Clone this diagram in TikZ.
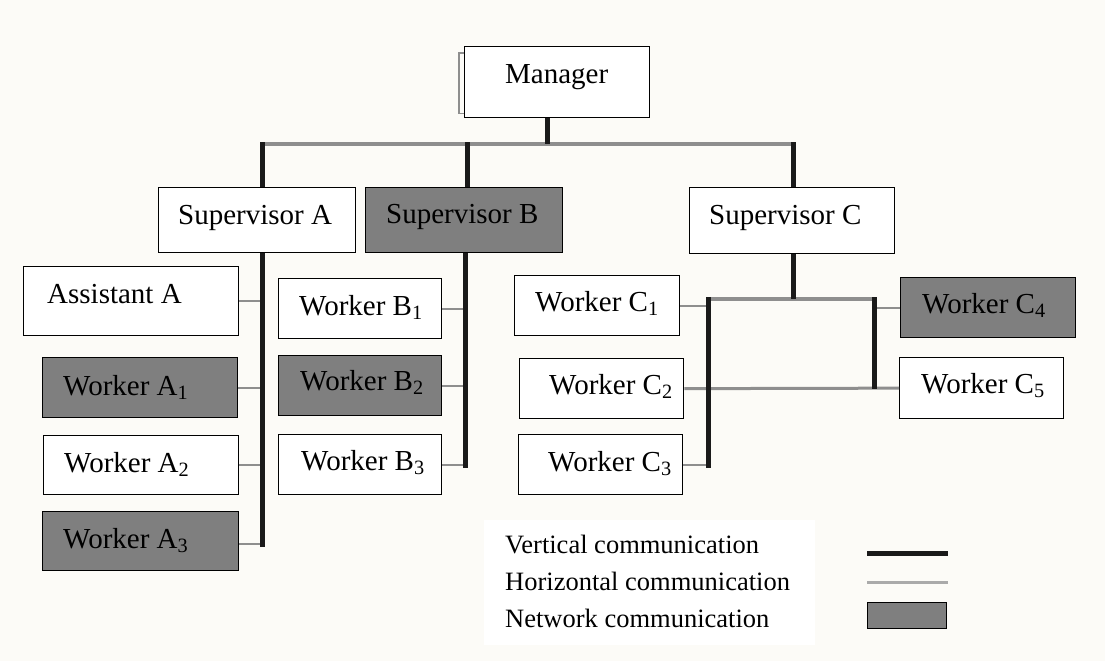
\documentclass[tikz,border=0pt]{standalone}
\usepackage{fontspec}
\setmainfont{Liberation Serif}
\definecolor{bg}{HTML}{FCFBF7}
\definecolor{netgray}{HTML}{7F7F7F}
\definecolor{hgray}{HTML}{8E8E8E}
\definecolor{vblack}{HTML}{1A1A1A}
\tikzset{
 box/.style={draw=black, line width=1.3pt, fill=white, inner sep=0pt, anchor=north west},
 netbox/.style={box, fill=netgray},
 txt/.style={inner sep=0pt, anchor=base west, font=\fontsize{29}{34}\selectfont},
 legtxt/.style={inner sep=0pt, anchor=base west, font=\fontsize{26.5}{32}\selectfont},
 vline/.style={draw=vblack, line width=5pt},
 hline/.style={draw=hgray, line width=3.5pt},
 hconn/.style={draw=hgray, line width=2pt},
 bracketline/.style={draw=hgray, line width=1.5pt},
}
\begin{document}
\begin{tikzpicture}[x=1pt,y=-1pt]
\fill[bg] (0,0) rectangle (1105,661);
\useasboundingbox (0,0) rectangle (1105,661);

% boxes
\node[box, minimum width=185, minimum height=71] (man) at (464,46) {};
\node[box, minimum width=197, minimum height=65] (sa) at (158,187) {};
\node[netbox, minimum width=197, minimum height=65] (sb) at (365,187) {};
\node[box, minimum width=205, minimum height=66] (sc) at (689,187) {};
\node[box, minimum width=215, minimum height=69] (aa) at (23,266) {};
\node[netbox, minimum width=195, minimum height=60] (a1) at (42,357) {};
\node[box, minimum width=195, minimum height=59] (a2) at (43,435) {};
\node[netbox, minimum width=196, minimum height=59] (a3) at (42,511) {};
\node[box, minimum width=163, minimum height=60] (b1) at (278,278) {};
\node[netbox, minimum width=163, minimum height=60] (b2) at (278,355) {};
\node[box, minimum width=163, minimum height=60] (b3) at (278,434) {};
\node[box, minimum width=165, minimum height=60] (c1) at (514,275) {};
\node[box, minimum width=164, minimum height=60] (c2) at (519,358) {};
\node[box, minimum width=164, minimum height=60] (c3) at (518,434) {};
\node[netbox, minimum width=175, minimum height=60] (c4) at (900,277) {};
\node[box, minimum width=164, minimum height=61] (c5) at (899,357) {};

% texts
\node[txt] (mant) at (505,84) {Manager};
\node[txt] (sat) at (178,224) {Supervisor A};
\node[txt] (sbt) at (386,223) {Supervisor B};
\node[txt] (sct) at (709,224) {Supervisor C};
\node[txt] (aat) at (47,303) {Assistant A};
\node[txt] (a1t) at (63,395) {Worker A\textsubscript{1}};
\node[txt] (a2t) at (64,472) {Worker A\textsubscript{2}};
\node[txt] (a3t) at (63,548) {Worker A\textsubscript{3}};
\node[txt] (b1t) at (299,315) {Worker B\textsubscript{1}};
\node[txt] (b2t) at (300,390) {Worker B\textsubscript{2}};
\node[txt] (b3t) at (301,470) {Worker B\textsubscript{3}};
\node[txt] (c1t) at (535,311) {Worker C\textsubscript{1}};
\node[txt] (c2t) at (549,394) {Worker C\textsubscript{2}};
\node[txt] (c3t) at (548,471) {Worker C\textsubscript{3}};
\node[txt] (c4t) at (922,313) {Worker C\textsubscript{4}};
\node[txt] (c5t) at (921,393) {Worker C\textsubscript{5}};

% junction coordinates
\coordinate (jA) at (262,144);
\coordinate (jB) at (467,144);
\coordinate (jC) at (793,144);
\coordinate (jM) at (547,144);
\coordinate (endA) at (262,547);
\coordinate (endB) at (465,468);
\coordinate (vCl) at (708,299);
\coordinate (endCl) at (708,468);
\coordinate (vCr) at (874,299);
\coordinate (endCr) at (874,389);
\coordinate (jC2) at (793,299);

% manager bracket
\draw[bracketline] ([yshift=-7pt]man.north west) -- ++(-5,0) |- ([yshift=5pt]man.south west);

% horizontal (grey) lines
\draw[hline] (jA) -- (jC);
\draw[hline] (vCl) -- (vCr);
\draw[hline, line width=3pt] (c2.east) -- (c5.west);
\draw[hconn] (aa.east) -- (aa.east -| endA);
\draw[hconn] (a1.east) -- (a1.east -| endA);
\draw[hconn] (a2.east) -- (a2.east -| endA);
\draw[hconn] ([yshift=-3pt]a3.east) -- ([yshift=-3pt]a3.east -| endA);
\draw[hconn] (b1.east) -- (b1.east -| endB);
\draw[hconn] (b2.east) -- (b2.east -| endB);
\draw[hconn] (b3.east) -- (b3.east -| endB);
\draw[hconn] (c1.east) -- (c1.east -| vCl);
\draw[hconn] (c3.east) -- (c3.east -| vCl);
\draw[hconn] (c4.west) -- (c4.west -| vCr);

% vertical (black) lines
\draw[vline] (jM |- man.south) -- (jM);
\draw[vline] ([yshift=2pt]jA) -- (jA |- sa.north);
\draw[vline] ([yshift=2pt]jB) -- (jB |- sb.north);
\draw[vline] ([yshift=2pt]jC) -- (jC |- sc.north);
\draw[vline] (jA |- sa.south) -- (endA);
\draw[vline] (endB |- sb.south) -- (endB);
\draw[vline] (sc.south -| jC2) -- (jC2);
\draw[vline] ([yshift=2pt]vCl) -- (endCl);
\draw[vline] ([yshift=2pt]vCr) -- (endCr);

% legend
\node[fill=white, inner sep=0pt, minimum width=331, minimum height=125, anchor=north west] (legbg) at (484,520) {};
\node[legtxt] (lt1) at (505,553) {Vertical communication};
\node[legtxt] (lt2) at (505,590) {Horizontal communication};
\node[legtxt] (lt3) at (505,627) {Network communication};
\coordinate (lv1) at (867,553);
\coordinate (lv2) at (948,553);
\coordinate (lh1) at (867,582);
\coordinate (lh2) at (948,582);
\draw[vline] (lv1) -- (lv2);
\draw[hline, draw=hgray!75, line width=3pt] (lh1) -- (lh2);
\node[netbox, minimum width=79, minimum height=26] (legnet) at (867,602) {};
\end{tikzpicture}
\end{document}
